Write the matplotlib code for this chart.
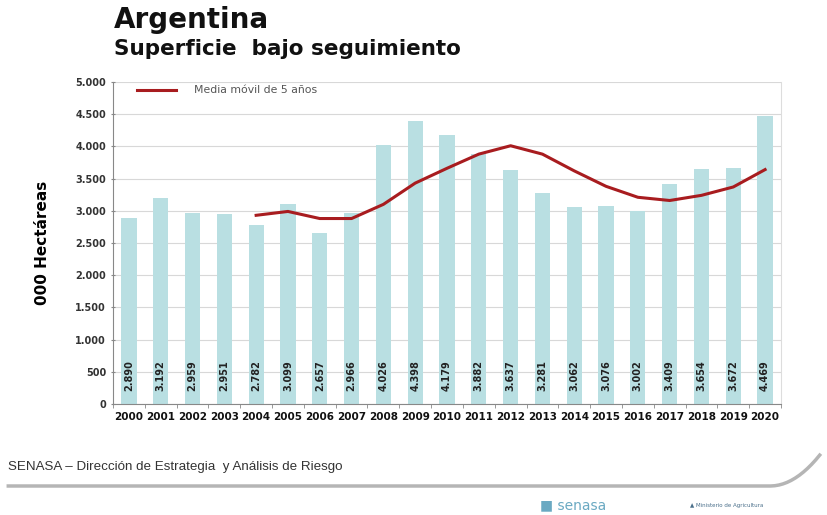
import numpy as np
import matplotlib.pyplot as plt

# data
years = [str(y) for y in range(2000, 2021)]
superficie = [2890, 3192, 2959, 2951, 2782, 3099, 2657, 2966, 4026, 4398, 4179,
              3882, 3637, 3281, 3062, 3076, 3002, 3409, 3654, 3672, 4469]
labels = ['2.890', '3.192', '2.959', '2.951', '2.782', '3.099', '2.657', '2.966',
          '4.026', '4.398', '4.179', '3.882', '3.637', '3.281', '3.062', '3.076',
          '3.002', '3.409', '3.654', '3.672', '4.469']
mm_years = years[4:]
media_movil = [2930, 2990, 2880, 2880, 3100, 3430, 3660, 3880, 4010, 3880,
               3620, 3380, 3210, 3160, 3240, 3370, 3640]
yticks = list(range(0, 5001, 500))
ytick_labels = ['0', '500', '1.000', '1.500', '2.000', '2.500', '3.000',
                '3.500', '4.000', '4.500', '5.000']

fig = plt.figure(figsize=(8.28, 5.15), dpi=100)
ax = fig.add_axes([113 / 828, 1 - 404 / 515, 668 / 828, 322 / 515])

x = np.arange(len(years))
ax.bar(x, superficie, width=0.48, color='#b9dfe2', zorder=2)
xm = x[4:]
ax.plot(xm, media_movil, color='#a81c1f', lw=2.2, zorder=3,
        label='Media móvil de 5 años')

for xi, lab in zip(x, labels):
    ax.text(xi, 440, lab, rotation=90, ha='center', va='center',
            fontsize=7, fontweight='bold', color='#222222', zorder=4)

ax.set_xlim(-0.5, len(years) - 0.5)
ax.set_ylim(0, 5000)
ax.set_yticks(yticks)
ax.set_yticklabels(ytick_labels, fontsize=7, fontweight='bold', color='#333333')
ax.set_xticks(x)
ax.set_xticklabels(years, fontsize=7.5, fontweight='bold', color='#111111')
ax.set_xticks(np.arange(-0.5, len(years), 1.0), minor=True)
ax.tick_params(axis='x', which='major', length=0, pad=6)
ax.tick_params(axis='x', which='minor', length=3, color='#888888')
ax.tick_params(axis='y', length=3, color='#888888', direction='inout')
ax.grid(axis='y', color='#d8d8d8', lw=0.8, zorder=0)
ax.spines['top'].set_visible(False)
ax.spines['right'].set_color('#dddddd')
ax.spines['left'].set_color('#888888')
ax.spines['bottom'].set_color('#888888')
ax.set_ylabel('000 Hectáreas', fontsize=11, fontweight='bold', labelpad=18)

leg = ax.legend(loc='upper left', bbox_to_anchor=(0.022, 1.02), fontsize=7.8,
                frameon=False, handlelength=3.6, handletextpad=1.6)
for t in leg.get_texts():
    t.set_color('#555555')

fig.text(114 / 828, 1 - 20 / 515, 'Argentina', fontsize=20, fontweight='bold',
         va='center', color='#111111')
fig.text(114 / 828, 1 - 49 / 515, 'Superficie  bajo seguimiento', fontsize=15.5,
         fontweight='bold', va='center', color='#111111')

fig.text(8 / 828, 1 - 467 / 515, 'SENASA \u2013 Dirección de Estrategia  y Análisis de Riesgo',
         fontsize=9.6, va='center', color='#333333', family='Liberation Sans')
# curved separator line
sx = np.linspace(0.01, 0.99, 200)
sy = 1 - 486 / 515 + np.where(sx > 0.93, ((sx - 0.93) / 0.06) ** 2 * 0.06, 0)
fig.add_artist(plt.Line2D(sx, sy, color='#b5b5b5', lw=2.5, transform=fig.transFigure))

fig.text(540 / 828, 1 - 505 / 515, '\u25a0 senasa', fontsize=10, va='center',
         color='#6aa9c2')
fig.text(690 / 828, 1 - 505 / 515, '\u25b2 Ministerio de Agricultura', fontsize=4,
         va='center', color='#4a6f8a')

fig.savefig('out.png', dpi=100)
